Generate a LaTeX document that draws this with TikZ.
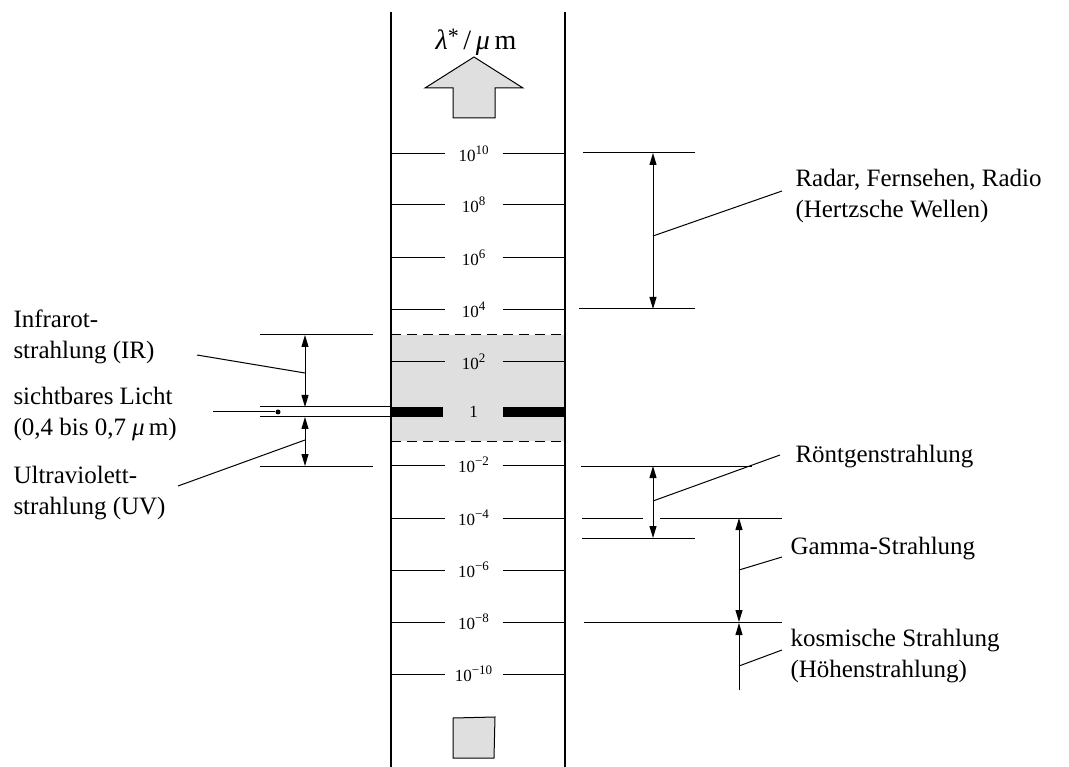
\documentclass[tikz,border=0pt]{standalone}
\usepackage{fontspec}
\setmainfont{Liberation Serif}
\usetikzlibrary{arrows.meta}

\newcommand\pw[1]{\raisebox{0.42em}{\fontsize{13}{13}\selectfont #1}}

\begin{document}
\begin{tikzpicture}[
    x=1pt, y=-1pt,
    line width=1pt,
    txt/.style={font=\fontsize{25}{31}\selectfont, align=left,
                anchor=west, inner sep=0pt},
    ticklbl/.style={font=\fontsize{17}{18}\selectfont,
                    minimum width=57pt, inner sep=0pt},
    dim/.style={{Triangle[length=12pt,width=7pt]}-{Triangle[length=12pt,width=7pt]}},
    upar/.style={-{Triangle[length=12pt,width=7pt]}},
    band/.style={fill=gray!25},
    axis/.style={line width=1.3pt}
]

\useasboundingbox (0,0) rectangle (1069,767);

% scale column
\fill[band] (391,335) rectangle (565,441);
\draw[dash pattern=on 10pt off 6pt] (391,335) -- (565,335);
\draw[dash pattern=on 10pt off 6pt] (391,441) -- (565,441);
\draw[axis] (391,12) -- (391,767);
\draw[axis] (565,12) -- (565,767);

\node[font=\fontsize{28}{30}\selectfont] (unit) at (476,42)
    {\textit{λ}\raisebox{0.22em}{\fontsize{22}{22}\selectfont *}\,/\,\textit{μ}\,m};
\draw[fill=gray!25] (474,57) -- (425,88) -- (453,88) -- (453,118)
    -- (495,118) -- (495,88) -- (523,88) -- cycle;

\foreach \n/\y/\ex in {a/154/10, b/205/8, c/258/6, d/310/4, e/362/2,
                       g/465/−2, h/518/−4, i/570/−6, j/622/−8, k/674/−10} {
    \node[ticklbl] (t\n) at (473.5,\y) {10\pw{\ex}};
    \draw (t\n.west) -- (391,\y);
    \draw (t\n.east) -- (565,\y);
}

\node[ticklbl] (tf) at (473.5,412) {1};
\fill (391,407) rectangle (443,417);
\fill (503,407) rectangle (565,417);

\draw[fill=gray!25] (453,718) -- (495,717) -- (494,758) -- (453,758) -- cycle;

% left side
\node[txt] (ir) at (13,337) {Infrarot-\\strahlung (IR)};
\node[txt] (vis) at (13,414) {sichtbares Licht\\(0,4 bis 0,7 \textit{μ}\,m)};
\node[txt] (uv) at (13,493) {Ultraviolett-\\strahlung (UV)};

\draw (260,335) -- (373,335);
\draw (260,466) -- (373,466);
\draw (260,407) -- (391,407);
\draw (260,417) -- (391,417);

\coordinate (irtop) at (305,335);
\coordinate (irbot) at (305,407);
\coordinate (uvtop) at (305,417);
\coordinate (uvbot) at (305,466);
\draw[dim] (irtop) -- (irbot);
\draw[dim] (uvtop) -- (uvbot);

\coordinate (irend) at (197,355);
\coordinate (irhit) at (305,373);
\draw (irend) -- (irhit);
\coordinate (uvend) at (178,486);
\coordinate (uvhit) at (305,440);
\draw (uvend) -- (uvhit);
\node[circle, fill, inner sep=0pt, minimum size=5pt] (dot) at (278,412) {};
\coordinate (visend) at (213,412);
\draw (visend) -- (dot);

% right side
\node[txt] (radio) at (795,196) {Radar, Fernsehen, Radio\\(Hertzsche Wellen)};
\node[txt] (xray) at (795,457) {Röntgenstrahlung};
\node[txt] (gamma) at (790,549) {Gamma-Strahlung};
\node[txt] (cosmic) at (790,656) {kosmische Strahlung\\(Höhenstrahlung)};

\draw (583,153) -- (695,153);
\draw (579,309) -- (695,309);
\draw (581,466) -- (752,466);
\draw (582,518) -- (643,518);
\draw (660,518) -- (782,518);
\draw (582,538) -- (695,538);
\draw (584,622) -- (782,622);

\coordinate (rtop) at (653,153);
\coordinate (rbot) at (653,309);
\coordinate (xtop) at (653,466);
\coordinate (xbot) at (653,538);
\coordinate (gtop) at (739,518);
\coordinate (gbot) at (739,622);
\coordinate (ctop) at (739,623);
\coordinate (cbot) at (739,690);
\draw[dim] (rtop) -- (rbot);
\draw[dim] (xtop) -- (xbot);
\draw[dim] (gtop) -- (gbot);
\draw[upar] (cbot) -- (ctop);

\coordinate (rend) at (782,191);
\coordinate (rhit) at (653,236);
\draw (rhit) -- (rend);
\coordinate (xend) at (780,455);
\coordinate (xhit) at (653,501);
\draw (xhit) -- (xend);
\coordinate (gend) at (782,557);
\coordinate (ghit) at (739,570);
\draw (ghit) -- (gend);
\coordinate (cend) at (782,650);
\coordinate (chit) at (739,666);
\draw (chit) -- (cend);

\end{tikzpicture}
\end{document}
